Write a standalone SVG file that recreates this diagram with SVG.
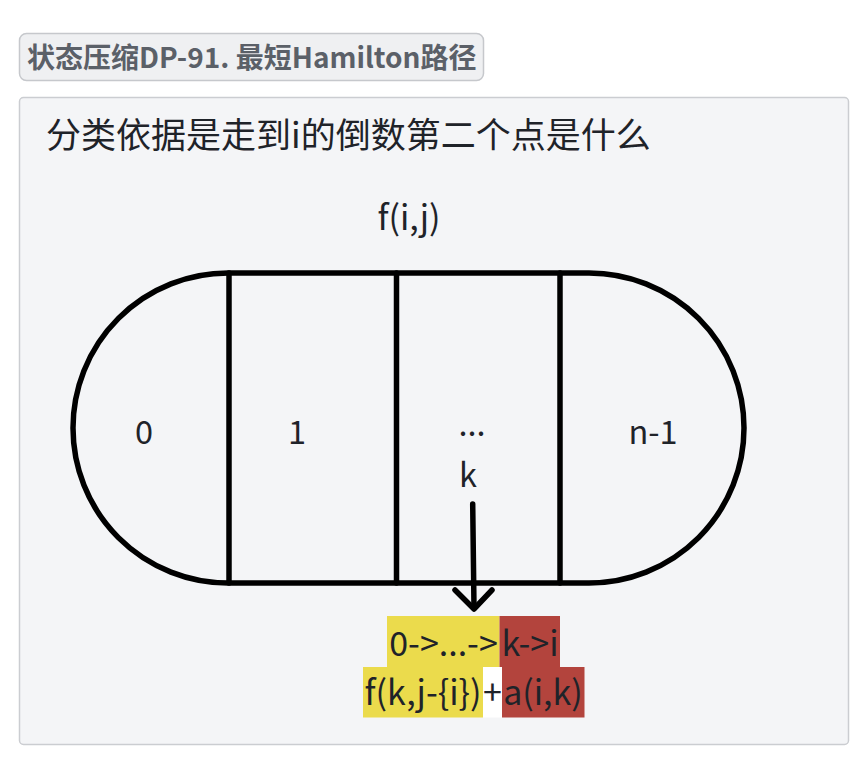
<svg xmlns="http://www.w3.org/2000/svg" width="868" height="762" viewBox="0 0 868 762">
<style>
.t{font-family:"Noto Sans CJK SC","Noto Sans",sans-serif;fill:#1f2329;}
.lbl{font-size:32.5px;text-anchor:middle;}
.fm{font-size:34px;}
.ln{stroke:#000;stroke-width:5.5;fill:none;stroke-linecap:round;stroke-linejoin:round;}
</style>
<rect x="0" y="0" width="868" height="762" fill="#ffffff"/>
<g id="header">
<rect x="19.5" y="33.5" width="464" height="47" rx="7" fill="#eff0f2" stroke="#c6c8cc" stroke-width="1.5"/>
<text class="t" x="27" y="68" font-size="28" font-weight="bold" style="fill:#5b6068">状态压缩DP-91. 最短Hamilton路径</text>
</g>
<g id="panel">
<rect x="19.5" y="97.5" width="829" height="647" rx="4" fill="#f4f5f7" stroke="#cbcdd1" stroke-width="1.5"/>
<text class="t" x="46" y="148" font-size="35">分类依据是走到i的倒数第二个点是什么</text>
<text class="t" x="409" y="230" font-size="34" text-anchor="middle">f(i,j)</text>
</g>
<g id="stadium">
<rect x="73" y="273" width="671" height="310" rx="155" ry="155" fill="#ffffff" class="ln"/>
<line x1="229" y1="273" x2="229" y2="583" class="ln"/>
<line x1="396.5" y1="273" x2="396.5" y2="583" class="ln"/>
<line x1="560" y1="273" x2="560" y2="583" class="ln"/>
</g>
<g id="cell0"><text class="t lbl" x="144" y="444">0</text></g>
<g id="cell1"><text class="t lbl" x="297" y="444">1</text></g>
<g id="cellk"><text class="t lbl" x="472" y="436">...</text><text class="t lbl" x="468" y="487">k</text></g>
<g id="celln"><text class="t lbl" x="653" y="444">n-1</text></g>
<g id="connectors">
<line x1="472.7" y1="504" x2="474" y2="607" class="ln"/>
<polyline points="455,590 474,609 492,590" class="ln"/>
</g>
<g id="formula">
<rect x="387" y="616" width="112.5" height="51" fill="#ebdb4c"/>
<rect x="499.5" y="616" width="60.5" height="51" fill="#b3443d"/>
<rect x="363" y="667" width="120" height="50.5" fill="#ebdb4c"/>
<rect x="483" y="667" width="19" height="50.5" fill="#ffffff"/>
<rect x="502" y="667" width="82.5" height="50.5" fill="#b3443d"/>
<text class="t lbl fm" x="443.5" y="656">0-&gt;...-&gt;</text>
<text class="t lbl fm" x="530" y="656">k-&gt;i</text>
<text class="t lbl fm" x="423" y="705">f(k,j-{i})</text>
<text class="t lbl fm" x="492.5" y="705">+</text>
<text class="t lbl fm" x="543" y="705">a(i,k)</text>
</g>
</svg>
